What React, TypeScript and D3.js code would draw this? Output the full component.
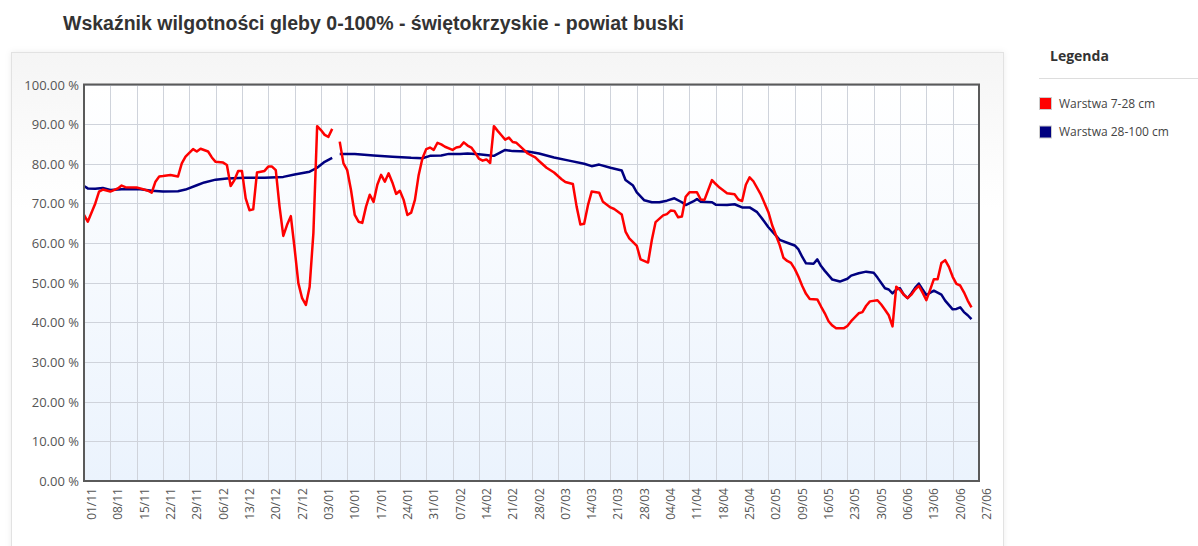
import { useEffect, useRef } from 'react';
import * as d3 from 'd3';

const TITLE = 'Wskaźnik wilgotności gleby 0-100% - świętokrzyskie - powiat buski';
const LEGEND_TITLE = 'Legenda';
const SERIES_NAMES = ['Warstwa 7-28 cm', 'Warstwa 28-100 cm'];
const SERIES_COLORS = ['#ff0000', '#000080'];

// etykiety osi X co 7 dni, od 01/11
const TICK_LABELS = [
  '01/11', '08/11', '15/11', '22/11', '29/11', '06/12', '13/12', '20/12', '27/12',
  '03/01', '10/01', '17/01', '24/01', '31/01', '07/02', '14/02', '21/02', '28/02',
  '07/03', '14/03', '21/03', '28/03', '04/04', '11/04', '18/04', '25/04', '02/05',
  '09/05', '16/05', '23/05', '30/05', '06/06', '13/06', '20/06', '27/06'
];
const Y_TICKS = [0, 10, 20, 30, 40, 50, 60, 70, 80, 90, 100];

// [dzień od 01/11, wartość %], null = brak danych
const LAYER_TOP: [number, number | null][] = [
  [0, 67.1], [1, 65.4], [3, 70.0], [4, 73.0], [5, 73.5], [7, 73.0], [9, 73.8], [10, 74.5],
  [11, 74.1], [14, 74.0], [15, 73.8], [17, 73.2], [18, 72.7], [19, 75.5], [20, 76.8], [21, 76.9],
  [23, 77.2], [25, 76.8], [26, 80.1], [27, 81.8], [29, 83.7], [30, 83.1], [31, 83.8], [33, 83.1],
  [34, 81.6], [35, 80.5], [37, 80.3], [38, 79.7], [39, 74.4], [40, 75.9], [41, 78.2], [42, 78.2],
  [43, 71.3], [44, 68.3], [45, 68.5], [46, 77.8], [48, 78.2], [49, 79.3], [50, 79.3], [51, 78.4],
  [52, 69.2], [53, 61.8], [54, 64.6], [55, 66.8], [56, 58.7], [57, 49.9], [58, 46.1], [59, 44.4],
  [60, 49.0], [61, 62.5], [62, 89.5], [63, 88.5], [64, 87.3], [65, 86.8], [66, 88.8], [67, null],
  [68, 85.6], [69, 80.1], [70, 78.4], [71, 73.4], [72, 67.1], [73, 65.4], [74, 65.1], [75, 69.2],
  [76, 72.2], [77, 70.4], [78, 74.7], [79, 77.2], [80, 75.5], [81, 77.6], [82, 75.3], [83, 72.4],
  [84, 73.2], [85, 70.9], [86, 67.1], [87, 67.7], [88, 70.9], [89, 77.2], [90, 81.4], [91, 83.7],
  [92, 84.1], [93, 83.5], [94, 85.3], [95, 84.9], [96, 84.3], [98, 83.5], [99, 84.1], [100, 84.3],
  [101, 85.4], [102, 84.6], [103, 84.1], [104, 82.8], [105, 81.3], [106, 80.8], [107, 81.1], [108, 80.2],
  [109, 89.5], [110, 88.3], [111, 87.2], [112, 86.1], [113, 86.6], [114, 85.5], [115, 85.3], [116, 84.4],
  [117, 83.5], [118, 82.6], [120, 81.6], [121, 80.7], [123, 79.0], [125, 77.8], [127, 76.1], [128, 75.4],
  [130, 74.9], [131, 69.2], [132, 64.7], [133, 64.9], [134, 69.5], [135, 73.0], [137, 72.7], [138, 70.4],
  [140, 69.0], [141, 68.6], [143, 67.2], [144, 62.9], [145, 61.2], [147, 59.3], [148, 55.9], [150, 55.1],
  [151, 60.8], [152, 65.3], [154, 67.0], [155, 67.3], [156, 68.2], [157, 68.1], [158, 66.5], [159, 66.7],
  [160, 71.7], [161, 72.8], [163, 72.8], [164, 71.0], [165, 70.9], [167, 75.9], [168, 74.9], [169, 74.0],
  [171, 72.6], [173, 72.3], [174, 71.0], [175, 70.6], [176, 74.7], [177, 76.6], [178, 75.6], [180, 72.2],
  [182, 67.8], [183, 64.5], [185, 59.5], [186, 56.3], [187, 55.5], [188, 55.0], [189, 53.5], [190, 51.5],
  [191, 49.2], [192, 47.2], [193, 45.9], [195, 45.8], [196, 44.0], [197, 42.3], [198, 40.3], [199, 39.2],
  [200, 38.5], [202, 38.5], [203, 39.1], [204, 40.3], [206, 42.3], [207, 42.6], [208, 44.2], [209, 45.3],
  [211, 45.6], [212, 44.5], [213, 43.2], [214, 41.8], [215, 39.0], [216, 49.0], [217, 48.2], [218, 47.0],
  [219, 46.1], [220, 47.0], [221, 48.3], [222, 49.2], [223, 47.5], [224, 45.6], [225, 48.2], [226, 50.9],
  [227, 50.9], [228, 55.0], [229, 55.7], [230, 54.0], [231, 51.5], [232, 49.7], [233, 49.3], [234, 47.6],
  [235, 45.5], [236, 43.8]
];

const LAYER_DEEP: [number, number | null][] = [
  [0, 74.4], [1, 73.8], [3, 73.7], [5, 73.9], [7, 73.4], [10, 73.6], [15, 73.6], [18, 73.2],
  [21, 73.0], [25, 73.1], [27, 73.5], [30, 74.6], [32, 75.3], [35, 76.0], [38, 76.3], [43, 76.5],
  [48, 76.5], [53, 76.7], [56, 77.3], [60, 78.0], [62, 79.0], [64, 80.5], [66, 81.5], [67, null],
  [68, 82.5], [72, 82.5], [77, 82.1], [82, 81.8], [87, 81.5], [90, 81.4], [92, 82.0], [95, 82.1],
  [97, 82.5], [100, 82.5], [102, 82.6], [105, 82.4], [108, 82.1], [109, 82.0], [111, 83.0], [112, 83.5],
  [114, 83.2], [118, 83.1], [121, 82.6], [125, 81.6], [129, 80.8], [133, 80.0], [135, 79.4], [137, 79.8],
  [140, 79.0], [143, 78.3], [144, 75.9], [146, 74.5], [147, 72.8], [149, 70.8], [151, 70.3], [153, 70.3],
  [155, 70.7], [157, 71.3], [159, 70.3], [160, 69.6], [162, 70.5], [163, 71.1], [164, 70.4], [167, 70.3],
  [168, 69.7], [171, 69.6], [173, 69.8], [175, 69.0], [177, 69.0], [179, 67.8], [180, 66.6], [182, 64.0],
  [184, 61.9], [185, 60.8], [187, 60.1], [189, 59.4], [190, 58.4], [191, 56.5], [192, 54.9], [194, 54.8],
  [195, 55.9], [196, 54.2], [197, 53.0], [199, 50.8], [201, 50.3], [203, 51.0], [204, 51.8], [206, 52.4],
  [208, 52.8], [210, 52.5], [211, 51.3], [213, 48.6], [214, 48.3], [215, 47.3], [216, 48.3], [217, 48.6],
  [218, 47.0], [219, 46.1], [220, 47.3], [221, 48.7], [222, 49.8], [223, 48.3], [224, 46.9], [226, 48.0],
  [228, 47.0], [229, 45.5], [231, 43.3], [232, 43.4], [233, 43.8], [234, 42.6], [235, 41.8], [236, 40.8]
];

const W = 1198;
const H = 546;
const PLOT = { left: 84, right: 979, top: 84.5, bottom: 481 };

export default function App() {
  const ref = useRef<SVGSVGElement>(null);

  useEffect(() => {
    if (!ref.current) return;
    const svg = d3.select(ref.current);
    svg.selectAll('*').remove();

    const x = d3.scaleLinear().domain([0, (TICK_LABELS.length - 1) * 7]).range([PLOT.left, PLOT.right]);
    const y = d3.scaleLinear().domain([0, 100]).range([PLOT.bottom, PLOT.top]);

    const defs = svg.append('defs');
    const bg = defs.append('linearGradient').attr('id', 'plotBg').attr('x1', 0).attr('y1', 0).attr('x2', 0).attr('y2', 1);
    bg.append('stop').attr('offset', '0%').attr('stop-color', '#ffffff');
    bg.append('stop').attr('offset', '100%').attr('stop-color', '#ebf3fd');
    const box = defs.append('linearGradient').attr('id', 'boxBg').attr('x1', 0).attr('y1', 0).attr('x2', 0).attr('y2', 1);
    box.append('stop').attr('offset', '0%').attr('stop-color', '#f5f5f5');
    box.append('stop').attr('offset', '30%').attr('stop-color', '#ffffff');
    box.append('stop').attr('offset', '100%').attr('stop-color', '#ffffff');
    const shadow = defs.append('filter').attr('id', 'boxShadow')
      .attr('x', '-5%').attr('y', '-5%').attr('width', '110%').attr('height', '110%');
    shadow.append('feDropShadow').attr('dx', 0).attr('dy', 0).attr('stdDeviation', 3)
      .attr('flood-color', '#000').attr('flood-opacity', 0.07);

    // tytuł
    svg.append('text')
      .attr('x', 63).attr('y', 30)
      .attr('font-family', '"Liberation Sans", Arial, sans-serif')
      .attr('font-weight', 'bold').attr('font-size', 19.5).attr('fill', '#333')
      .text(TITLE);

    // ramka wykresu
    svg.append('rect')
      .attr('x', 11.5).attr('y', 52.5).attr('width', 992).attr('height', 520)
      .attr('fill', 'url(#boxBg)').attr('stroke', '#e2e2e2')
      .attr('filter', 'url(#boxShadow)');

    svg.append('rect')
      .attr('x', PLOT.left).attr('y', PLOT.top)
      .attr('width', PLOT.right - PLOT.left).attr('height', PLOT.bottom - PLOT.top)
      .attr('fill', 'url(#plotBg)');

    svg.append('g').attr('stroke', '#cfd3db').selectAll('line').data(TICK_LABELS).join('line')
      .attr('x1', (_d, i) => Math.round(x(i * 7)) + 0.5).attr('x2', (_d, i) => Math.round(x(i * 7)) + 0.5)
      .attr('y1', PLOT.top).attr('y2', PLOT.bottom);
    svg.append('g').attr('stroke', '#cfd3db').selectAll('line').data(Y_TICKS).join('line')
      .attr('x1', PLOT.left).attr('x2', PLOT.right)
      .attr('y1', (d) => Math.round(y(d)) + 0.5).attr('y2', (d) => Math.round(y(d)) + 0.5);

    // serie
    const line = d3.line<[number, number | null]>()
      .defined((d) => d[1] !== null)
      .x((d) => x(d[0]))
      .y((d) => y(d[1] as number));
    [LAYER_DEEP, LAYER_TOP].forEach((data, i) => {
      svg.append('path')
        .datum(data)
        .attr('d', line)
        .attr('fill', 'none')
        .attr('stroke', SERIES_COLORS[1 - i])
        .attr('stroke-width', 2.5)
        .attr('stroke-linejoin', 'round');
    });

    svg.append('rect')
      .attr('x', PLOT.left).attr('y', PLOT.top)
      .attr('width', PLOT.right - PLOT.left).attr('height', PLOT.bottom - PLOT.top)
      .attr('fill', 'none').attr('stroke', '#5a5a5a').attr('stroke-width', 2);

    // oś Y
    svg.append('g').selectAll('text').data(Y_TICKS).join('text')
      .attr('x', 79).attr('y', (d) => y(d) + 5)
      .attr('text-anchor', 'end')
      .attr('font-family', '"Open Sans", sans-serif').attr('font-size', 13).attr('fill', '#555')
      .text((d) => `${d.toFixed(2)} %`);

    // oś X
    svg.append('g').selectAll('text').data(TICK_LABELS).join('text')
      .attr('transform', (_d, i) => `translate(${x(i * 7) + 12},488) rotate(-90)`)
      .attr('text-anchor', 'end')
      .attr('font-family', '"Open Sans", sans-serif').attr('font-size', 12).attr('fill', '#555')
      .text((d) => d);

    // legenda
    svg.append('text')
      .attr('x', 1050).attr('y', 61)
      .attr('font-family', '"Open Sans", sans-serif').attr('font-weight', 'bold')
      .attr('font-size', 14).attr('fill', '#333')
      .text(LEGEND_TITLE);
    svg.append('line')
      .attr('x1', 1039).attr('x2', W).attr('y1', 78.5).attr('y2', 78.5)
      .attr('stroke', '#dddddd');
    const items = svg.append('g').selectAll('g').data(SERIES_NAMES).join('g')
      .attr('transform', (_d, i) => `translate(1039,${97 + i * 28.5})`);
    items.append('rect')
      .attr('x', 0.5).attr('y', 0.5).attr('width', 12).attr('height', 12)
      .attr('fill', (_d, i) => SERIES_COLORS[i]).attr('stroke', '#cccccc');
    items.append('text')
      .attr('x', 20).attr('y', 10.5)
      .attr('font-family', '"Open Sans", sans-serif').attr('font-size', 12).attr('fill', '#444')
      .text((d) => d);
  }, []);

  return (
    <svg
      ref={ref}
      width={W}
      height={H}
      style={{ position: 'absolute', left: 0, top: 0, background: '#fff' }}
    />
  );
}
